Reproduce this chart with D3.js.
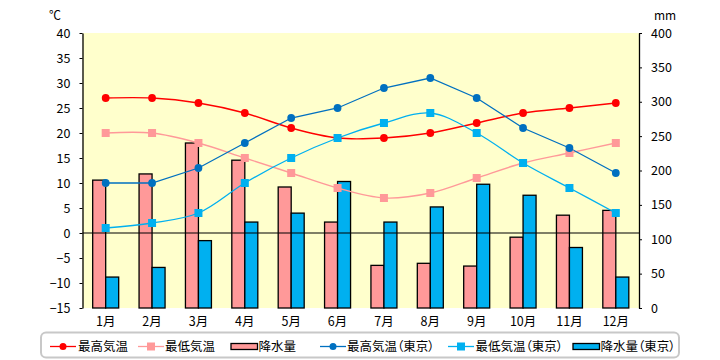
<!DOCTYPE html>
<html><head><meta charset="utf-8">
<script src="https://cdn.jsdelivr.net/npm/d3@7"></script>
<style>html,body{margin:0;padding:0;background:#fff;}svg{display:block;font-family:"Noto Sans CJK JP","Noto Sans",sans-serif;}.leg{font-feature-settings:"palt";}</style>
</head><body><svg id="c" width="720" height="360"></svg>
<script>
const months = ["1月","2月","3月","4月","5月","6月","7月","8月","9月","10月","11月","12月"];
const maxTemp = [27,27,26,24,21,19,19,20,22,24,25,26];
const minTemp = [20,20,18,15,12,9,7,8,11,14,16,18];
const rain = [186,195,240,215,176,125,62,65,61,103,135,142];
const maxTempTokyo = [10,10,13,18,23,25,29,31,27,21,17,12];
const minTempTokyo = [1,2,4,10,15,19,22,24,20,14,9,4];
const rainTokyo = [45,59,98,125,138,184,125,147,180,164,88,45];
const tempTicks = [40,35,30,25,20,15,10,5,0,-5,-10,-15];
const rainTicks = [400,350,300,250,200,150,100,50,0];
const legendLabels = ["最高気温","最低気温","降水量","最高気温（東京）","最低気温（東京）","降水量（東京）"];

const svg = d3.select("#c");
const L = 82.5, R = 639, T = 33, B = 308;
const x = d3.scaleBand().domain(months).range([L, R]).padding(0);
const yT = d3.scaleLinear().domain([-15, 40]).range([B, T]);
const yR = d3.scaleLinear().domain([0, 400]).range([B, T]);
const sub = d3.scaleBand().domain(["a","b"]).range([-13, 13]);
const cx = m => x(m) + x.bandwidth() / 2;

svg.append("rect").attr("x", L).attr("y", T).attr("width", R - L).attr("height", B - T).attr("fill", "#FFFFCC");

// bars
const barSeries = [{v: rain, k: "a", c: "#FF9999"}, {v: rainTokyo, k: "b", c: "#00B0F0"}];
barSeries.forEach(s => {
  svg.append("g").selectAll("rect").data(months).join("rect")
    .attr("x", (m) => cx(m) + sub(s.k))
    .attr("width", sub.bandwidth())
    .attr("y", (m, i) => yR(s.v[i]))
    .attr("height", (m, i) => yR(0) - yR(s.v[i]))
    .attr("fill", s.c).attr("stroke", "#000").attr("stroke-width", 1.3);
});

// zero line
svg.append("line").attr("x1", L).attr("x2", R).attr("y1", yT(0)).attr("y2", yT(0)).attr("stroke", "#000").attr("stroke-width", 1.2);

// axes
const gl = svg.append("g").attr("transform", `translate(${L},0)`)
  .call(d3.axisLeft(yT).tickValues(tempTicks).tickSize(3).tickPadding(9).tickSizeOuter(0));
const gr = svg.append("g").attr("transform", `translate(${R},0)`)
  .call(d3.axisRight(yR).tickValues(rainTicks).tickSize(3).tickPadding(9).tickSizeOuter(0));
[gl, gr].forEach(g => {
  g.select(".domain").attr("stroke", "#000").attr("stroke-width", 1.3);
  g.selectAll(".tick line").attr("stroke", "#000");
  g.selectAll("text").attr("font-size", 12.5).attr("fill", "#000").attr("font-family", "'Noto Sans CJK JP',sans-serif");
});
const gb = svg.append("g").attr("transform", `translate(0,${B})`)
  .call(d3.axisBottom(x).tickSize(0).tickPadding(9));
gb.select(".domain").remove();
gb.selectAll("text").attr("font-size", 12.5).attr("fill", "#000").attr("font-family", "'Noto Sans CJK JP',sans-serif");

svg.append("text").attr("x", 55).attr("y", 20).attr("text-anchor", "middle").attr("font-size", 12).text("℃");
svg.append("text").attr("x", 665).attr("y", 20).attr("text-anchor", "middle").attr("font-size", 12).text("mm");

// lines
const lineSeries = [
  {v: maxTemp, c: "#FF0000", shape: "circle", curve: d3.curveCatmullRom, size: 3.9, w: 1.4},
  {v: minTemp, c: "#FF9999", shape: "square", curve: d3.curveCatmullRom, size: 8, w: 1.4},
  {v: maxTempTokyo, c: "#0070C0", shape: "circle", curve: d3.curveLinear, size: 3.9, w: 1.3},
  {v: minTempTokyo, c: "#00B0F0", shape: "square", curve: d3.curveCatmullRom, size: 8, w: 1.3}
];
lineSeries.forEach(s => {
  const line = d3.line().x((d, i) => cx(months[i])).y(d => yT(d)).curve(s.curve);
  svg.append("path").datum(s.v).attr("d", line).attr("fill", "none").attr("stroke", s.c).attr("stroke-width", s.w);
});
lineSeries.forEach(s => {
  const g = svg.append("g");
  if (s.shape === "circle") {
    g.selectAll("circle").data(s.v).join("circle")
      .attr("cx", (d, i) => cx(months[i])).attr("cy", d => yT(d)).attr("r", s.size).attr("fill", s.c);
  } else {
    g.selectAll("rect").data(s.v).join("rect")
      .attr("x", (d, i) => cx(months[i]) - s.size / 2).attr("y", d => yT(d) - s.size / 2)
      .attr("width", s.size).attr("height", s.size).attr("fill", s.c);
  }
});

// legend
svg.append("rect").attr("x", 41).attr("y", 332.5).attr("width", 638).attr("height", 25).attr("rx", 5)
  .attr("fill", "#fff").attr("stroke", "#C8C8C8").attr("stroke-width", 2);
const legItems = [
  {x: 50, tx: 78, type: "line", c: "#FF0000", shape: "circle"},
  {x: 138, tx: 165, type: "line", c: "#FF9999", shape: "square"},
  {x: 231, tx: 258.5, type: "bar", c: "#FF9999"},
  {x: 320, tx: 347, type: "line", c: "#0070C0", shape: "circle"},
  {x: 448, tx: 475.5, type: "line", c: "#00B0F0", shape: "square"},
  {x: 573, tx: 600.5, type: "bar", c: "#00B0F0"}
];
const ly = 347;
legItems.forEach((it, i) => {
  const g = svg.append("g");
  if (it.type === "line") {
    g.append("line").attr("x1", it.x).attr("x2", it.x + 26).attr("y1", ly - 0.5).attr("y2", ly - 0.5).attr("stroke", it.c).attr("stroke-width", 1.3);
    if (it.shape === "circle") g.append("circle").attr("cx", it.x + 13).attr("cy", ly - 0.5).attr("r", 3.5).attr("fill", it.c);
    else g.append("rect").attr("x", it.x + 9).attr("y", ly - 4.5).attr("width", 8).attr("height", 8).attr("fill", it.c);
  } else {
    g.append("rect").attr("x", it.x).attr("y", ly - 3.5).attr("width", 26.5).attr("height", 6).attr("fill", it.c).attr("stroke", "#000").attr("stroke-width", 1.3);
  }
  g.append("text").attr("class", "leg").attr("x", it.tx).attr("y", ly).attr("dy", "0.35em").attr("font-size", 12.5).attr("fill", "#000").text(legendLabels[i]);
});
</script></body></html>
